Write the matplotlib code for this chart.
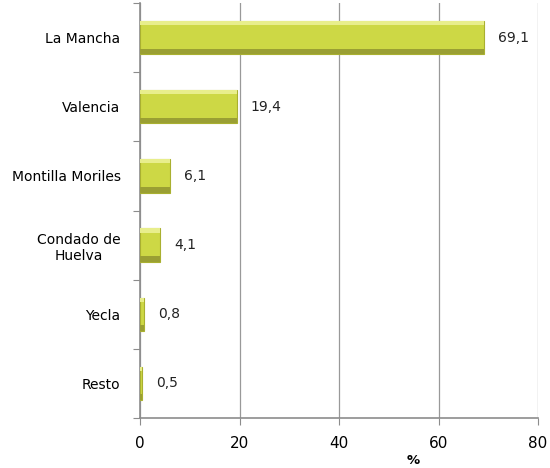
import numpy as np
import matplotlib.pyplot as plt

cats = ["La Mancha", "Valencia", "Montilla Moriles", "Condado de\nHuelva", "Yecla", "Resto"]
vals = [69.1, 19.4, 6.1, 4.1, 0.8, 0.5]
labels = ["69,1", "19,4", "6,1", "4,1", "0,8", "0,5"]
xticks = [0, 20, 40, 60, 80]

fig = plt.figure(figsize=(5.5, 4.68), dpi=100)
ax = fig.add_axes([140/550, 1-418/468, 398/550, 415/468])

y = np.arange(len(cats))
h = 0.48
grey = "#8c8c8c"

# bar body + bevel strips for the excel 3d look
ax.barh(y, vals, height=h, color="#cdd845", edgecolor="#a9b030", linewidth=0.8, zorder=3)
ax.barh(y - h/2 + 0.03, vals, height=0.06, color="#e8ee8c", linewidth=0, zorder=4)
ax.barh(y + h/2 - 0.04, vals, height=0.08, color="#9a9f33", linewidth=0, zorder=4)

for yi, v, lab in zip(y, vals, labels):
    ax.annotate(lab, (v, yi), xytext=(10, 0), textcoords="offset points",
                va="center", ha="left", fontsize=10, color="#222222")

ax.set_ylim(len(cats) - 0.5, -0.5)
ax.set_xlim(0, 80)
ax.set_yticks(np.arange(len(cats) + 1) - 0.5)
ax.set_yticklabels([])
ax.set_yticks(y, minor=True)
ax.set_yticklabels(cats, minor=True, fontsize=10, ha="right", multialignment="center")
ax.tick_params(axis="y", which="minor", length=0, pad=14)
ax.tick_params(axis="y", which="major", length=5, color=grey)
ax.set_xticks(xticks)
ax.set_xticklabels([str(t) for t in xticks], fontsize=11)
ax.tick_params(axis="x", length=5, color=grey, pad=8)

ax.grid(axis="x", color="#999999", linewidth=0.9, zorder=0)
for s in ["top", "right"]:
    ax.spines[s].set_visible(False)
for s in ["left", "bottom"]:
    ax.spines[s].set_color(grey)
    ax.spines[s].set_linewidth(1.2)

fig.text(413/550, 1-460/468, "%", fontsize=9.5, fontweight="bold", ha="center", va="center")

fig.savefig("out.png", dpi=100)
